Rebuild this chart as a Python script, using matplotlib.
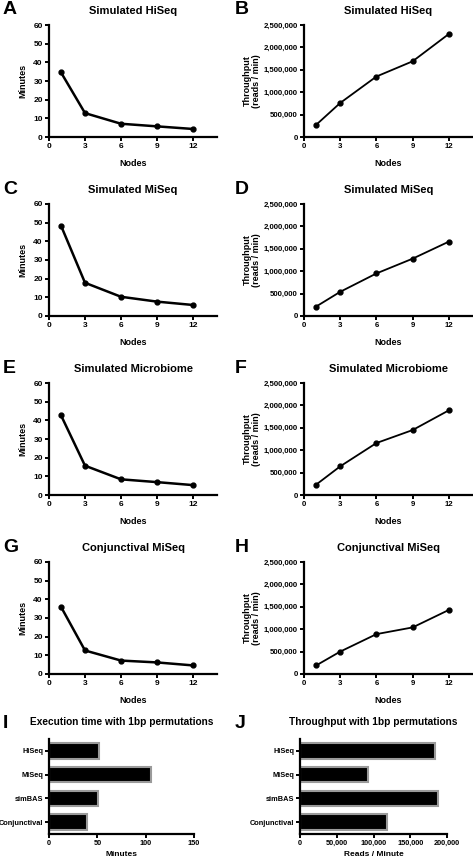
import numpy as np
import matplotlib
matplotlib.use("Agg")
import matplotlib.pyplot as plt
from matplotlib.ticker import FuncFormatter

plt.rcParams['font.family'] = ['Liberation Sans', 'DejaVu Sans']
plt.rcParams['font.weight'] = 'bold'

nodes = [1, 3, 6, 9, 12]

# minutes per dataset
min_hiseq = [34.6, 12.8, 7.1, 5.7, 4.3]
min_miseq = [48.4, 17.8, 10.3, 7.7, 5.9]
min_micro = [42.7, 15.7, 8.4, 6.9, 5.3]
min_conj = [36.0, 12.6, 7.2, 6.2, 4.6]

# throughput (reads / min)
thr_hiseq = [270000, 760000, 1350000, 1690000, 2300000]
thr_miseq = [210000, 540000, 950000, 1280000, 1660000]
thr_micro = [230000, 640000, 1160000, 1450000, 1890000]
thr_conj = [190000, 500000, 890000, 1040000, 1430000]

titles = ["Simulated HiSeq", "Simulated MiSeq", "Simulated Microbiome", "Conjunctival MiSeq"]
letters_left = ["A", "C", "E", "G"]
letters_right = ["B", "D", "F", "H"]

bar_cats = ["HiSeq", "MiSeq", "simBAS", "Conjunctival"]
bar_minutes = [52, 106, 51, 39]
bar_reads = [184000, 92000, 188000, 118000]

W, H = 473, 860
fig = plt.figure(figsize=(W / 100, H / 100), dpi=100)

def px_axes(x0, y0, x1, y1):
    return fig.add_axes([x0 / W, 1 - y1 / H, (x1 - x0) / W, (y1 - y0) / H])

def style(ax, size=6):
    for s in ['top', 'right']:
        ax.spines[s].set_visible(False)
    for s in ['left', 'bottom']:
        ax.spines[s].set_linewidth(1.6)
    ax.tick_params(direction='out', length=3, width=1.4, labelsize=size, pad=1.5)
    for lab in ax.get_xticklabels() + ax.get_yticklabels():
        lab.set_fontweight('bold')

comma = FuncFormatter(lambda v, p: f"{int(v):,}")

mins = [min_hiseq, min_miseq, min_micro, min_conj]
thrs = [thr_hiseq, thr_miseq, thr_micro, thr_conj]
tops = [25, 204, 383, 562]

for i in range(4):
    t = tops[i]
    ax = px_axes(49, t, 217, t + 112)
    ax.plot(nodes, mins[i], color='black', lw=1.8, marker='o', ms=3.5)
    ax.set_xlim(0, 14)
    ax.set_ylim(0, 60)
    ax.set_xticks([0, 3, 6, 9, 12])
    ax.set_yticks(range(0, 61, 10))
    ax.set_ylabel("Minutes", fontsize=6.5, fontweight='bold', labelpad=4)
    ax.set_xlabel("Nodes", fontsize=6.5, fontweight='bold', labelpad=6)
    ax.set_title(titles[i], fontsize=8, fontweight='bold', pad=8)
    style(ax)
    fig.text(3 / W, 1 - (t - 15) / H, letters_left[i], fontsize=14, fontweight='bold', va='center')

    ax2 = px_axes(304, t, 473, t + 112)
    ax2.plot(nodes, thrs[i], color='black', lw=1.3, marker='o', ms=3.5)
    ax2.set_xlim(0, 14)
    ax2.set_ylim(0, 2500000)
    ax2.set_xticks([0, 3, 6, 9, 12])
    ax2.set_yticks(range(0, 2500001, 500000))
    ax2.yaxis.set_major_formatter(comma)
    ax2.set_ylabel("Throughput\n(reads / min)", fontsize=6.5, fontweight='bold', labelpad=2, linespacing=1.0)
    ax2.set_xlabel("Nodes", fontsize=6.5, fontweight='bold', labelpad=6)
    ax2.set_title(titles[i], fontsize=8, fontweight='bold', pad=8)
    style(ax2, 5.6)
    fig.text(235 / W, 1 - (t - 15) / H, letters_right[i], fontsize=14, fontweight='bold', va='center')

ypos = np.arange(len(bar_cats))

axi = px_axes(49, 739, 194, 834)
axi.barh(ypos, bar_minutes, height=0.65, color='black', edgecolor='#9a9a9a', lw=1.5)
axi.set_xlim(0, 150)
axi.set_ylim(3.5, -0.5)
axi.set_xticks([0, 50, 100, 150])
axi.set_yticks(ypos)
axi.set_yticklabels(bar_cats)
axi.set_xlabel("Minutes", fontsize=6, fontweight='bold', labelpad=3)
axi.set_title("Execution time with 1bp permutations", fontsize=7.3, fontweight='bold', pad=10)
style(axi, 5.3)
axi.tick_params(axis='y', pad=1)
fig.text(3 / W, 1 - 723 / H, "I", fontsize=14, fontweight='bold', va='center')

axj = px_axes(300, 739, 447, 834)
axj.barh(ypos, bar_reads, height=0.65, color='black', edgecolor='#9a9a9a', lw=1.5)
axj.set_xlim(0, 200000)
axj.set_ylim(3.5, -0.5)
axj.set_xticks(range(0, 200001, 50000))
axj.xaxis.set_major_formatter(comma)
axj.set_yticks(ypos)
axj.set_yticklabels(bar_cats)
axj.set_xlabel("Reads / Minute", fontsize=6, fontweight='bold', labelpad=3)
axj.set_title("Throughput with 1bp permutations", fontsize=7.3, fontweight='bold', pad=10)
style(axj, 5.3)
axj.tick_params(axis='y', pad=1)
fig.text(235 / W, 1 - 723 / H, "J", fontsize=14, fontweight='bold', va='center')

fig.savefig("out.png", dpi=100)
